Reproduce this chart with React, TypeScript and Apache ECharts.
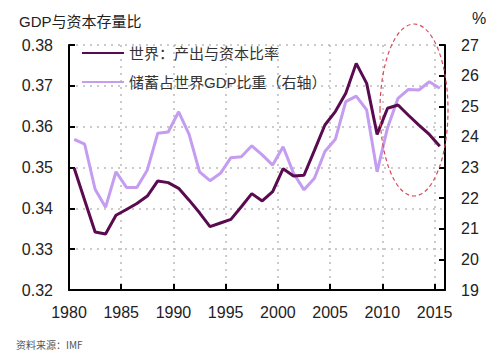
import React, { useEffect, useRef } from "react";
import * as echarts from "echarts";

const years = [
  1980, 1981, 1982, 1983, 1984, 1985, 1986, 1987, 1988, 1989,
  1990, 1991, 1992, 1993, 1994, 1995, 1996, 1997, 1998, 1999,
  2000, 2001, 2002, 2003, 2004, 2005, 2006, 2007, 2008, 2009,
  2010, 2011, 2012, 2013, 2014, 2015,
];

// 世界：产出与资本比率 (left axis)
const outputCapitalRatio = [
  0.3498, 0.342, 0.3342, 0.3337, 0.3383, 0.3397, 0.3412, 0.343, 0.3467, 0.3463,
  0.3449, 0.342, 0.3389, 0.3355, 0.3364, 0.3373, 0.3404, 0.3436, 0.3418, 0.3441,
  0.3497, 0.3479, 0.3481, 0.3542, 0.3604, 0.3637, 0.3682, 0.3755, 0.3706, 0.3581,
  0.3645, 0.3653, 0.3628, 0.3604, 0.3581, 0.3552,
];

// 储蓄占世界GDP比重 (right axis, %)
const savingsShare = [
  23.92, 23.76, 22.29, 21.7, 22.86, 22.35, 22.35, 22.92, 24.12, 24.16,
  24.82, 24.08, 22.86, 22.57, 22.81, 23.32, 23.35, 23.71, 23.41, 23.08,
  23.68, 22.81, 22.27, 22.65, 23.52, 23.92, 25.15, 25.33, 24.88, 22.86,
  24.3, 25.26, 25.55, 25.53, 25.8, 25.59,
];

const seriesNames = ["世界：产出与资本比率", "储蓄占世界GDP比重（右轴）"];
const leftTicks = { min: 0.32, max: 0.38, interval: 0.01 };
const rightTicks = { min: 19, max: 27, interval: 1 };
const xTicks = { min: 1980, max: 2016, interval: 5 };

const FONT = '"Liberation Sans", Arial, "Noto Sans CJK SC", sans-serif';
const DARK = "#5a0b50";
const LIGHT = "#c49cf0";

export default function App() {
  const ref = useRef<HTMLDivElement>(null);

  useEffect(() => {
    if (!ref.current) return;
    const chart = echarts.init(ref.current, undefined, { renderer: "svg" });
    // annual values plotted at mid-year
    const darkData = years.map((y, i) => [y + 0.5, outputCapitalRatio[i]]);
    const lightData = years.map((y, i) => [y + 0.5, savingsShare[i]]);

    chart.setOption({
      animation: false,
      backgroundColor: "#ffffff",
      textStyle: { fontFamily: FONT },
      title: {
        text: "GDP与资本存量比",
        left: 14,
        top: 9,
        textStyle: { fontSize: 15, fontWeight: "normal", color: "#222", fontFamily: FONT },
      },
      legend: {
        orient: "vertical",
        left: 77,
        top: 39,
        itemWidth: 42,
        itemHeight: 2,
        itemGap: 11,
        icon: "rect",
        data: [
          { name: seriesNames[0], itemStyle: { color: DARK } },
          { name: seriesNames[1], itemStyle: { color: LIGHT } },
        ],
        textStyle: { fontSize: 15, color: "#333", fontFamily: FONT, lineHeight: 18 },
      },
      grid: { left: 69, right: 55, top: 45, bottom: 64 },
      xAxis: {
        type: "value",
        min: xTicks.min,
        max: xTicks.max,
        interval: xTicks.interval,
        axisLine: { lineStyle: { color: "#000", width: 2 } },
        axisTick: { inside: true, length: 6, lineStyle: { color: "#000", width: 2 } },
        axisLabel: {
          margin: 14,
          fontSize: 16,
          color: "#222",
          fontFamily: FONT,
          showMaxLabel: false,
          formatter: (v: number) => (v % 5 === 0 ? String(v) : ""),
        },
        splitLine: { show: true, lineStyle: { color: "#bbbbbb", type: [2, 5], width: 1.5 } },
      },
      yAxis: [
        {
          type: "value",
          min: leftTicks.min,
          max: leftTicks.max,
          interval: leftTicks.interval,
          axisLine: { show: true, lineStyle: { color: "#000", width: 2 } },
          axisTick: { show: true, inside: true, length: 6, lineStyle: { color: "#000", width: 2 } },
          axisLabel: {
            margin: 16,
            fontSize: 16,
            color: "#222",
            fontFamily: FONT,
            formatter: (v: number) => v.toFixed(2),
          },
          splitLine: { show: true, lineStyle: { color: "#bbbbbb", type: [2, 5], width: 1.5 } },
        },
        {
          type: "value",
          position: "right",
          min: rightTicks.min,
          max: rightTicks.max,
          interval: rightTicks.interval,
          axisLine: { show: true, lineStyle: { color: "#000", width: 2 } },
          axisTick: { show: true, inside: true, length: 6, lineStyle: { color: "#000", width: 2 } },
          axisLabel: { margin: 16, fontSize: 16, color: "#222", fontFamily: FONT },
          splitLine: { show: false },
        },
      ],
      series: [
        {
          name: seriesNames[0],
          type: "line",
          yAxisIndex: 0,
          data: darkData,
          symbol: "none",
          lineStyle: { color: DARK, width: 3 },
          itemStyle: { color: DARK },
          z: 3,
        },
        {
          name: seriesNames[1],
          type: "line",
          yAxisIndex: 1,
          data: lightData,
          symbol: "none",
          lineStyle: { color: LIGHT, width: 3 },
          itemStyle: { color: LIGHT },
          z: 2,
        },
      ],
      graphic: [
        {
          type: "text",
          left: 472,
          top: 10,
          style: { text: "%", fill: "#222", font: `16px ${FONT}` },
        },
        {
          type: "text",
          left: 16,
          top: 339,
          style: { text: "资料来源：IMF", fill: "#555", font: `10px "Noto Sans CJK SC", sans-serif` },
        },
        {
          type: "ellipse",
          shape: { cx: 414, cy: 110, rx: 34, ry: 86 },
          style: { fill: "none", stroke: "#d9485a", lineWidth: 1.2, lineDash: [4, 3] },
          z: 10,
        },
      ],
    });
    return () => chart.dispose();
  }, []);

  return (
    <div
      ref={ref}
      style={{ position: "absolute", left: 0, top: 0, width: 500, height: 354 }}
    />
  );
}
